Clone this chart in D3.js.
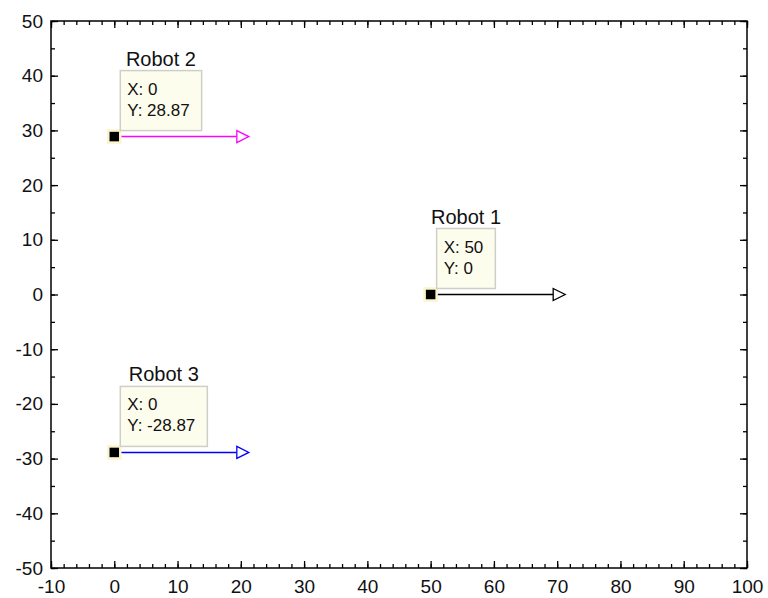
<!DOCTYPE html>
<html>
<head>
<meta charset="utf-8">
<script src="https://cdn.jsdelivr.net/npm/d3@7"></script>
<style>
  body { margin: 0; background: #fff; }
  svg { display: block; font-family: Arial, "Liberation Sans", sans-serif; }
</style>
</head>
<body>
<div id="vis"></div>
<script>
// robot data
var robotNames = ['Robot 1', 'Robot 2', 'Robot 3'];
var robotX = [50, 0, 0];
var robotY = [0, 28.87, -28.87];
var headingX = [70, 20, 20];   // arrow end (x)
var xTicks = [-10, 0, 10, 20, 30, 40, 50, 60, 70, 80, 90, 100];
var yTicks = [-50, -40, -30, -20, -10, 0, 10, 20, 30, 40, 50];

var lineColors = ['#000000', '#ff00ff', '#0000ff'];

var width = 768, height = 598;
var margin = { left: 51, right: 21, top: 21, bottom: 30 };

var x = d3.scaleLinear().domain([-10, 100]).range([margin.left, width - margin.right]);
var y = d3.scaleLinear().domain([-50, 50]).range([height - margin.bottom, margin.top]);

var svg = d3.select('#vis').append('svg')
  .attr('width', width)
  .attr('height', height);

svg.append('rect').attr('width', width).attr('height', height).attr('fill', '#fff');

var minorX = d3.range(-10, 100.1, 2);
var minorY = d3.range(-50, 50.1, 5);
var plain = function (d) { return String(d); };   // hyphen minus, like the original

function styleAxis(g) {
  g.select('.domain').remove();
  g.selectAll('.tick line').attr('stroke', '#000').attr('stroke-width', 1.3);
  g.selectAll('.tick text').attr('fill', '#111').attr('font-size', 19)
    .attr('font-family', 'Arial, "Liberation Sans", sans-serif');
}

// minor ticks
svg.append('g').attr('transform', 'translate(0,' + y(-50) + ')')
  .call(d3.axisBottom(x).tickValues(minorX).tickSize(-4).tickFormat(''))
  .call(styleAxis);
svg.append('g').attr('transform', 'translate(0,' + y(50) + ')')
  .call(d3.axisTop(x).tickValues(minorX).tickSize(-4).tickFormat(''))
  .call(styleAxis);
svg.append('g').attr('transform', 'translate(' + x(-10) + ',0)')
  .call(d3.axisLeft(y).tickValues(minorY).tickSize(-4).tickFormat(''))
  .call(styleAxis);
svg.append('g').attr('transform', 'translate(' + x(100) + ',0)')
  .call(d3.axisRight(y).tickValues(minorY).tickSize(-4).tickFormat(''))
  .call(styleAxis);

// major ticks + labels
svg.append('g').attr('transform', 'translate(0,' + y(-50) + ')')
  .call(d3.axisBottom(x).tickValues(xTicks).tickSize(-7).tickPadding(12).tickFormat(plain))
  .call(styleAxis);
svg.append('g').attr('transform', 'translate(0,' + y(50) + ')')
  .call(d3.axisTop(x).tickValues(xTicks).tickSize(-7).tickFormat(''))
  .call(styleAxis);
svg.append('g').attr('transform', 'translate(' + x(-10) + ',0)')
  .call(d3.axisLeft(y).tickValues(yTicks).tickSize(-7).tickPadding(8).tickFormat(plain))
  .call(styleAxis);
svg.append('g').attr('transform', 'translate(' + x(100) + ',0)')
  .call(d3.axisRight(y).tickValues(yTicks).tickSize(-7).tickFormat(''))
  .call(styleAxis);

// frame
svg.append('rect')
  .attr('x', x(-10)).attr('y', y(50))
  .attr('width', x(100) - x(-10)).attr('height', y(-50) - y(50))
  .attr('fill', 'none').attr('stroke', '#000').attr('stroke-width', 1.5);

var robots = robotNames.map(function (name, i) {
  return { name: name, x: robotX[i], y: robotY[i], hx: headingX[i], color: lineColors[i] };
});

var g = svg.selectAll('.robot').data(robots).enter().append('g').attr('class', 'robot');

// heading arrow
g.append('line')
  .attr('x1', function (d) { return x(d.x); })
  .attr('x2', function (d) { return x(d.hx) - 4; })
  .attr('y1', function (d) { return y(d.y); })
  .attr('y2', function (d) { return y(d.y); })
  .attr('stroke', function (d) { return d.color; })
  .attr('stroke-width', 1.5);

g.append('path')
  .attr('d', function (d) {
    var ex = x(d.hx), ey = y(d.y);
    return 'M' + (ex - 4) + ',' + (ey - 6) + 'L' + (ex + 8) + ',' + ey + 'L' + (ex - 4) + ',' + (ey + 6) + 'Z';
  })
  .attr('fill', '#fff')
  .attr('stroke', function (d) { return d.color; })
  .attr('stroke-width', 1.3);

// marker
g.append('rect')
  .attr('x', function (d) { return x(d.x) - 6; })
  .attr('y', function (d) { return y(d.y) - 6; })
  .attr('width', 12).attr('height', 12)
  .attr('fill', '#000')
  .attr('stroke', '#fbf4cc').attr('stroke-width', 2.5);

// tooltip box
g.each(function (d) {
  var sel = d3.select(this);
  var bx = x(d.x) + 6, bottom = y(d.y) - 6, bh = 60, by = bottom - bh;
  var box = sel.append('rect').attr('x', bx).attr('y', by).attr('height', bh)
    .attr('fill', '#fdfdee').attr('stroke', '#cfcfc8').attr('stroke-width', 1.5);
  var t1 = sel.append('text').attr('x', bx + 7).attr('y', by + 24)
    .attr('font-size', 17).attr('fill', '#111').text('X: ' + d.x);
  var t2 = sel.append('text').attr('x', bx + 7).attr('y', by + 45)
    .attr('font-size', 17).attr('fill', '#111').text('Y: ' + d.y);
  var w = Math.max(t1.node().getComputedTextLength(), t2.node().getComputedTextLength()) + 19;
  box.attr('width', w);
  sel.append('text').attr('x', bx + w / 2).attr('y', by - 5)
    .attr('text-anchor', 'middle').attr('font-size', 20).attr('fill', '#111')
    .text(d.name);
});
</script>
</body>
</html>
